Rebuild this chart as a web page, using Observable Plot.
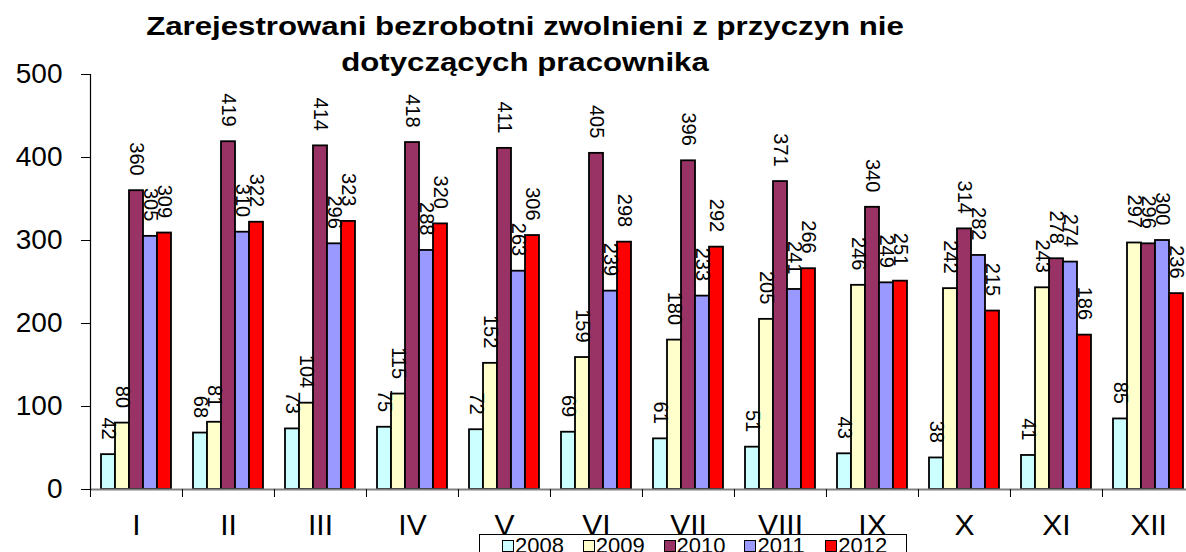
<!DOCTYPE html>
<html>
<head>
<meta charset="utf-8">
<script src="https://cdn.jsdelivr.net/npm/d3@7"></script>
<script src="https://cdn.jsdelivr.net/npm/@observablehq/plot@0.6"></script>
<style>
  html, body { margin: 0; padding: 0; background: white; overflow: hidden; }
  #wrap { position: relative; width: 1186px; height: 552px; overflow: hidden; font-family: "Liberation Sans", Arial, sans-serif; }
  #title { position: absolute; left: 0; top: 9px; width: 1050px; text-align: center; font-weight: bold; font-size: 26px; line-height: 35.5px; color: black; transform: scaleX(1.2); transform-origin: 525px 0; }
  #legend { position: absolute; left: 479px; top: 534px; width: 428px; height: 30px; border: 1px solid black; background: white; box-sizing: border-box; padding-left: 22px; padding-top: 1px; display: flex; }
  .item { width: 83.5px; display: flex; align-items: center; font-size: 22px; line-height: 20px; height: 20px; }
  .sw { width: 10px; height: 10px; border: 1px solid black; margin-right: 1px; flex: none; }
  #chart { position: absolute; left: 0; top: 0; }
</style>
</head>
<body>
<div id="wrap">
  <div id="chart"></div>
  <div id="title">Zarejestrowani bezrobotni zwolnieni z przyczyn nie<br>dotyczących pracownika</div>
  <div id="legend"></div>
</div>
<script>
const months = ["I", "II", "III", "IV", "V", "VI", "VII", "VIII", "IX", "X", "XI", "XII"];
const years = ["2008", "2009", "2010", "2011", "2012"];
const v2008 = [42, 68, 73, 75, 72, 69, 61, 51, 43, 38, 41, 85];
const v2009 = [80, 81, 104, 115, 152, 159, 180, 205, 246, 242, 243, 297];
const v2010 = [360, 419, 414, 418, 411, 405, 396, 371, 340, 314, 278, 296];
const v2011 = [305, 310, 296, 288, 263, 239, 233, 241, 249, 282, 274, 300];
const v2012 = [309, 322, 323, 320, 306, 298, 292, 266, 251, 215, 186, 236];
const colors = ["#CCFFFF", "#FFFFCC", "#993366", "#9999FF", "#FF0000"];
const yTicks = [0, 100, 200, 300, 400, 500];

const series = [v2008, v2009, v2010, v2011, v2012];
const data = months.flatMap((m, i) => years.map((y, j) => ({month: m, year: y, value: series[j][i]})));

const W = 1186, H = 552, ML = 89, MR = -8;
const bandHalf = (W - ML - MR) / months.length / 2;

const chart = Plot.plot({
  width: W,
  height: H,
  marginLeft: ML,
  marginRight: MR,
  marginTop: 74,
  marginBottom: 63,
  style: {fontFamily: "'Liberation Sans', Arial, sans-serif", background: "transparent", color: "black"},
  fx: {domain: months, padding: 0, label: null},
  x: {domain: years, paddingInner: 0, paddingOuter: 0.72, axis: null},
  y: {domain: [0, 500], label: null},
  color: {domain: years, range: colors},
  marks: [
    Plot.barY(data, {fx: "month", x: "year", y: "value", fill: "year", stroke: "black", strokeWidth: 1.8}),
    Plot.ruleY([0], {stroke: "#808080", strokeWidth: 2}),
    Plot.frame({anchor: "left", facetAnchor: "left", stroke: "black", strokeWidth: 1.2}),
    Plot.text(data, {fx: "month", x: "year", y: "value", text: d => String(d.value), rotate: 90, textAnchor: "end", lineAnchor: "middle", dy: -15, fontSize: 20, fill: "black"}),
    Plot.axisY({ticks: yTicks, tickSize: 9, tickPadding: 19, fontSize: 28, label: null, stroke: "black"}),
    Plot.axisFx({anchor: "bottom", tickSize: 0, tickPadding: 24, fontSize: 30, label: null}),
    Plot.axisFx({anchor: "bottom", tickSize: 8, text: null, label: null, dx: -bandHalf, stroke: "black"})
  ]
});
document.getElementById("chart").appendChild(chart);

const legend = document.getElementById("legend");
years.forEach((y, j) => {
  const it = document.createElement("div");
  it.className = "item";
  const sw = document.createElement("span");
  sw.className = "sw";
  sw.style.background = colors[j];
  it.appendChild(sw);
  const t = document.createElement("span");
  t.textContent = y;
  it.appendChild(t);
  legend.appendChild(it);
});
</script>
</body>
</html>
